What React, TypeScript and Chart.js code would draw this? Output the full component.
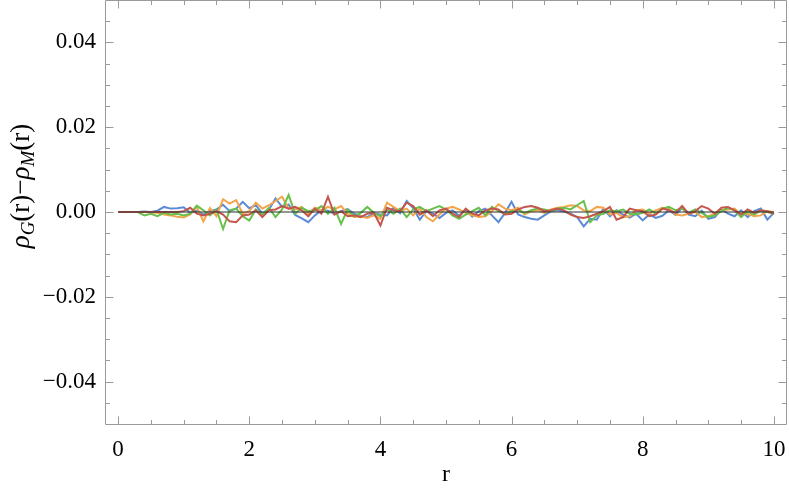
import React, { useEffect, useRef } from "react";
import { Chart, registerables } from "chart.js";

Chart.register(...registerables);

const rValues = [
  0.0, 0.1, 0.2, 0.3, 0.4, 0.5, 0.6, 0.7, 0.8, 0.9,
  1.0, 1.1, 1.2, 1.3, 1.4, 1.5, 1.6, 1.7, 1.8, 1.9,
  2.0, 2.1, 2.2, 2.3, 2.4, 2.5, 2.6, 2.7, 2.8, 2.9,
  3.0, 3.1, 3.2, 3.3, 3.4, 3.5, 3.6, 3.7, 3.8, 3.9,
  4.0, 4.1, 4.2, 4.3, 4.4, 4.5, 4.6, 4.7, 4.8, 4.9,
  5.0, 5.1, 5.2, 5.3, 5.4, 5.5, 5.6, 5.7, 5.8, 5.9,
  6.0, 6.1, 6.2, 6.3, 6.4, 6.5, 6.6, 6.7, 6.8, 6.9,
  7.0, 7.1, 7.2, 7.3, 7.4, 7.5, 7.6, 7.7, 7.8, 7.9,
  8.0, 8.1, 8.2, 8.3, 8.4, 8.5, 8.6, 8.7, 8.8, 8.9,
  9.0, 9.1, 9.2, 9.3, 9.4, 9.5, 9.6, 9.7, 9.8, 9.9,
  10.0,
];

const blueSeries = [
  0, 0, 0, 0, 0.0001, 0, 0.0003, 0.0012, 0.0008, 0.0009,
  0.0011, -0.0002, 0.0003, -0.0006, 0.0002, 0.0006, 0.0017, 0.0002, 0.0008, 0.0024,
  0.0009, 0.0016, -0.0004, 0.0006, 0.0032, 0.0012, 0.0018, -0.0007, -0.0015, -0.0024,
  -0.0008, 0.0004, 0.0003, -0.0005, 0.0002, 0.0007, -0.0004, -0.0009, -0.0012, -0.0003,
  -0.0006, -0.0008, 0.0010, -0.0003, 0.0026, 0.0009, -0.0018, 0.0002, -0.0004, -0.0014,
  -0.0002, 0.0004, -0.0009, 0.0006, -0.0011, 0.0002, 0.0008, -0.0008, -0.0024, -0.0002,
  0.0024, -0.0006, -0.0012, -0.0016, -0.0018, -0.0008, 0.0002, 0.0004, 0.0001, -0.0004,
  -0.0012, -0.0034, -0.0016, -0.0018, 0.0008, -0.0010, 0.0004, -0.0006, -0.0013, -0.0004,
  -0.0020, -0.0006, -0.0014, -0.0009, 0.0004, -0.0007, 0.0010, -0.0006, -0.0010, 0.0003,
  -0.0016, -0.0012, 0.0006, -0.0004, -0.0010, 0.0004, -0.0012, 0.0002, 0.0008, -0.0018,
  -0.0002,
];

const orangeSeries = [
  0, 0, 0, 0, 0, -0.0001, -0.0002, -0.0006, -0.0008, -0.0011,
  -0.0013, -0.0006, 0.0012, -0.0022, 0.0009, -0.0010, 0.0030, 0.0020, 0.0028, -0.0004,
  0.0002, 0.0022, 0.0008, 0.0016, 0.0026, 0.0036, 0.0008, 0.0006, 0.0012, -0.0004,
  0.0010, 0.0004, 0.0012, 0.0006, 0.0014, -0.0004, -0.0012, -0.0010, -0.0014, -0.0008,
  -0.0016, 0.0022, 0.0012, 0.0002, 0.0008, -0.0008, 0.0008, -0.0012, -0.0022, -0.0006,
  0.0008, 0.0012, 0.0006, -0.0002, -0.0008, -0.0012, -0.0010, 0.0002, 0.0018, 0.0008,
  0.0004, 0.0010, -0.0006, 0.0002, 0.0004, -0.0002, 0.0006, 0.0010, 0.0012, 0.0016,
  0.0014, 0.0004, 0.0002, 0.0012, 0.0010, -0.0006, -0.0002, -0.0012, -0.0010, 0.0004,
  0.0006, -0.0004, 0.0004, 0.0010, 0.0008, -0.0006, -0.0008, -0.0004, 0.0000, -0.0012,
  -0.0010, -0.0004, 0.0004, 0.0006, 0.0008, -0.0006, -0.0004, -0.0010, -0.0008, 0.0002,
  0.0000,
];

const greenSeries = [
  0, 0, 0, 0, -0.0008, -0.0004, -0.0010, -0.0002, -0.0006, -0.0004,
  -0.0008, -0.0004, 0.0015, 0.0004, -0.0008, 0.0006, -0.0040, 0.0004, 0.0008, -0.0010,
  -0.0020, 0.0006, -0.0006, 0.0010, -0.0012, 0.0006, 0.0040, -0.0004, 0.0010, 0.0002,
  0.0004, 0.0014, -0.0004, 0.0010, -0.0028, 0.0006, -0.0010, -0.0002, 0.0012, -0.0002,
  -0.0010, 0.0006, -0.0004, 0.0008, -0.0012, 0.0006, 0.0012, 0.0002, 0.0008, 0.0014,
  0.0006, -0.0008, -0.0016, -0.0006, 0.0002, 0.0010, -0.0008, 0.0012, 0.0002, -0.0004,
  0.0002, 0.0004, -0.0002, 0.0004, 0.0008, 0.0006, 0.0002, 0.0008, 0.0010, 0.0006,
  0.0016, 0.0026, -0.0024, -0.0008, -0.0004, 0.0004, 0.0002, 0.0006, -0.0004, -0.0006,
  -0.0002, 0.0006, -0.0004, 0.0008, 0.0012, 0.0004, 0.0008, -0.0002, 0.0006, -0.0002,
  -0.0012, -0.0008, 0.0002, 0.0010, 0.0004, -0.0012, 0.0002, -0.0006, 0.0004, 0.0000,
  -0.0004,
];

const redSeries = [
  0, 0, 0, 0, 0, 0, 0, 0, 0, 0,
  0.0002, 0.0010, -0.0004, -0.0008, -0.0004, 0.0002, -0.0006, -0.0022, -0.0024, -0.0008,
  -0.0006, 0.0004, -0.0012, 0.0004, 0.0006, 0.0014, 0.0008, 0.0012, 0.0004, -0.0010,
  0.0008, -0.0004, 0.0036, -0.0006, 0.0002, -0.0010, -0.0008, -0.0012, -0.0004, -0.0002,
  -0.0032, 0.0010, 0.0004, 0.0002, 0.0022, 0.0014, -0.0006, 0.0004, -0.0010, 0.0004,
  0.0008, -0.0004, -0.0012, 0.0008, -0.0004, -0.0008, 0.0004, 0.0008, 0.0006, -0.0006,
  -0.0004, 0.0006, 0.0012, 0.0014, 0.0010, 0.0002, 0.0004, 0.0008, 0.0004, -0.0006,
  -0.0012, -0.0014, -0.0010, -0.0004, 0.0002, 0.0012, -0.0018, -0.0012, 0.0008, 0.0004,
  0.0002, -0.0010, -0.0006, 0.0008, 0.0004, -0.0002, 0.0014, -0.0004, 0.0002, 0.0014,
  0.0008, -0.0004, 0.0010, 0.0012, 0.0004, -0.0006, 0.0006, -0.0002, 0.0004, 0.0002,
  -0.0004,
];

const zeroLineX = [0, 10];
const zeroLineY = [0, 0];

const xMajorTicks = [0, 2, 4, 6, 8, 10];
const xMinorTicks = [0.5, 1, 1.5, 2.5, 3, 3.5, 4.5, 5, 5.5, 6.5, 7, 7.5, 8.5, 9, 9.5];
const yMajorTicks = [-0.04, -0.02, 0, 0.02, 0.04];
const yMinorTicks = [
  -0.045, -0.035, -0.03, -0.025, -0.015, -0.01, -0.005,
  0.005, 0.01, 0.015, 0.025, 0.03, 0.035, 0.045,
];

const FONT = '"Liberation Serif", "Times New Roman", serif';

const zeroPad = (s: any) => {
  s.paddingTop = 0;
  s.paddingBottom = 0;
  s.paddingLeft = 0;
  s.paddingRight = 0;
};

const framePlugin = {
  id: "mmaFrame",
  afterDraw(chart: any) {
    const { ctx, chartArea: a, scales } = chart;
    const xs = scales.x;
    const ys = scales.y;
    ctx.save();
    ctx.strokeStyle = "#9a9a9a";
    ctx.lineWidth = 1;
    const L = Math.round(a.left) + 0.5;
    const R = Math.round(a.right) - 0.5;
    const T = Math.round(a.top) + 0.5;
    const B = Math.round(a.bottom) + 0.5;
    ctx.beginPath();
    ctx.rect(L, T, R - L, B - T);
    ctx.stroke();
    const major = 8;
    const minor = 4.5;
    ctx.beginPath();
    const xt = (v: number, len: number) => {
      const px = Math.round(xs.getPixelForValue(v)) + 0.5;
      ctx.moveTo(px, B);
      ctx.lineTo(px, B - len);
      ctx.moveTo(px, T);
      ctx.lineTo(px, T + len);
    };
    const yt = (v: number, len: number) => {
      const py = Math.round(ys.getPixelForValue(v)) + 0.5;
      ctx.moveTo(L, py);
      ctx.lineTo(L + len, py);
      ctx.moveTo(R, py);
      ctx.lineTo(R - len, py);
    };
    xMajorTicks.forEach((v) => xt(v, major));
    xMinorTicks.forEach((v) => xt(v, minor));
    yMajorTicks.forEach((v) => yt(v, major));
    yMinorTicks.forEach((v) => yt(v, minor));
    ctx.stroke();

    // x title
    ctx.fillStyle = "#000";
    ctx.font = `24px ${FONT}`;
    ctx.textAlign = "center";
    ctx.textBaseline = "alphabetic";
    ctx.fillText("r", (a.left + a.right) / 2, 481);

    // y title with subscripts
    const pieces = [
      { t: "ρ", it: true, sub: false },
      { t: "G", it: true, sub: true },
      { t: "(r)", it: false, sub: false },
      { t: "−", it: false, sub: false },
      { t: "ρ", it: true, sub: false },
      { t: "M", it: true, sub: true },
      { t: "(r)", it: false, sub: false },
    ];
    const big = 27;
    const small = 19;
    const fontFor = (p: any) => `${p.it ? "italic " : ""}${p.sub ? small : big}px ${FONT}`;
    let total = 0;
    const widths = pieces.map((p) => {
      ctx.font = fontFor(p);
      const w = ctx.measureText(p.t).width;
      total += w;
      return w;
    });
    ctx.translate(29, 186);
    ctx.rotate(-Math.PI / 2);
    ctx.textAlign = "left";
    let cx = -total / 2;
    pieces.forEach((p, i) => {
      ctx.font = fontFor(p);
      ctx.fillText(p.t, cx, p.sub ? 5 : 0);
      cx += widths[i];
    });
    ctx.restore();
  },
};

export default function App() {
  const ref = useRef<HTMLCanvasElement | null>(null);
  useEffect(() => {
    document.body.style.margin = "0";
    const canvas = ref.current;
    if (!canvas) return;
    const mk = (vals: number[]) => rValues.map((x, i) => ({ x, y: vals[i] }));
    const common = { pointRadius: 0, borderWidth: 2, tension: 0, fill: false };
    const chart = new Chart(canvas, {
      type: "line",
      data: {
        datasets: [
          {
            ...common,
            label: "zero",
            data: zeroLineX.map((x, i) => ({ x, y: zeroLineY[i] })),
            borderColor: "#2e2e2e",
            borderWidth: 1.2,
            order: 0,
          },
          { ...common, label: "blue", data: mk(blueSeries), borderColor: "#5b8ad6", order: 4 },
          { ...common, label: "orange", data: mk(orangeSeries), borderColor: "#f4a54a", order: 3 },
          { ...common, label: "green", data: mk(greenSeries), borderColor: "#68c04c", order: 2 },
          { ...common, label: "red", data: mk(redSeries), borderColor: "#c4574b", order: 1 },
        ],
      },
      options: {
        animation: false,
        responsive: false,
        events: [],
        layout: { autoPadding: false, padding: { top: 0, right: 2, left: 0, bottom: 0 } },
        plugins: { legend: { display: false }, tooltip: { enabled: false } },
        scales: {
          x: {
            type: "linear",
            min: -0.2,
            max: 10.2,
            grid: { display: false, drawTicks: false },
            border: { display: false },
            afterBuildTicks: (s: any) => {
              s.ticks = xMajorTicks.map((v) => ({ value: v }));
            },
            afterFit: (s: any) => {
              s.height = 71;
              zeroPad(s);
            },
            ticks: {
              color: "#000",
              padding: 12,
              maxRotation: 0,
              autoSkip: false,
              font: { family: FONT, size: 23 },
              callback: (v: any) => String(v),
            },
          },
          y: {
            type: "linear",
            min: -0.05,
            max: 0.05,
            grid: { display: false, drawTicks: false },
            border: { display: false },
            afterBuildTicks: (s: any) => {
              s.ticks = yMajorTicks.map((v) => ({ value: v }));
            },
            afterFit: (s: any) => {
              s.width = 105;
              zeroPad(s);
            },
            ticks: {
              color: "#000",
              padding: 9,
              autoSkip: false,
              font: { family: FONT, size: 23 },
              callback: (v: any) => {
                const n = Number(v);
                const s = Math.abs(n).toFixed(2);
                return n < -1e-9 ? "−" + s : s;
              },
            },
          },
        },
      },
      plugins: [framePlugin],
    });
    return () => chart.destroy();
  }, []);
  return <canvas ref={ref} width={789} height={495} style={{ display: "block" }} />;
}
